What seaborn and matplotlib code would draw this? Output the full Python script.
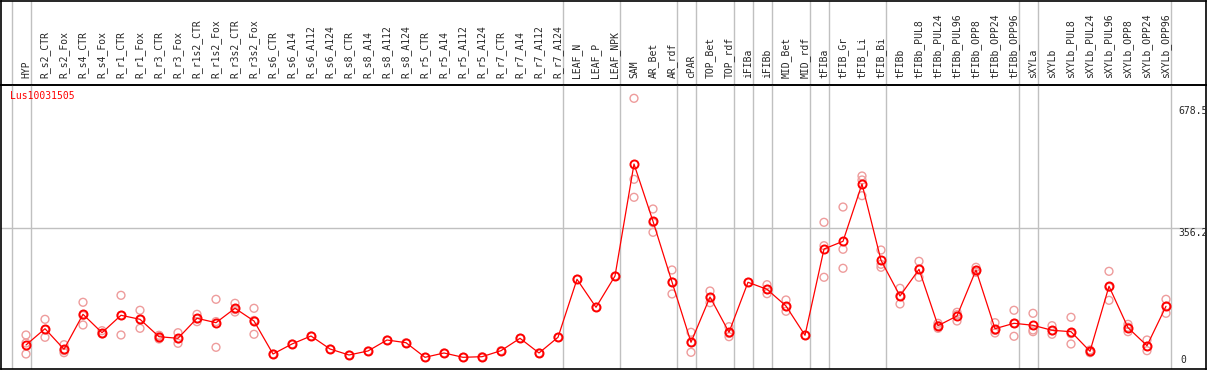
import numpy as np
import pandas as pd
import seaborn as sns
import matplotlib
matplotlib.use('Agg')
import matplotlib.pyplot as plt
import matplotlib.transforms as mtransforms

# Dados
gene = 'Lus10031505'
amostras = ['HYP', 'R_s2_CTR', 'R_s2_Fox', 'R_s4_CTR', 'R_s4_Fox', 'R_r1_CTR', 'R_r1_Fox',
            'R_r3_CTR', 'R_r3_Fox', 'R_r1s2_CTR', 'R_r1s2_Fox', 'R_r3s2_CTR', 'R_r3s2_Fox',
            'R_s6_CTR', 'R_s6_A14', 'R_s6_A112', 'R_s6_A124', 'R_s8_CTR', 'R_s8_A14',
            'R_s8_A112', 'R_s8_A124', 'R_r5_CTR', 'R_r5_A14', 'R_r5_A112', 'R_r5_A124',
            'R_r7_CTR', 'R_r7_A14', 'R_r7_A112', 'R_r7_A124', 'LEAF_N', 'LEAF_P', 'LEAF_NPK',
            'SAM', 'AR_Bet', 'AR_rdf', 'cPAR', 'TOP_Bet', 'TOP_rdf', 'iFIBa', 'iFIBb',
            'MID_Bet', 'MID_rdf', 'tFIBa', 'tFIB_Gr', 'tFIB_Li', 'tFIB_Bi', 'tFIBb',
            'tFIBb_PUL8', 'tFIBb_PUL24', 'tFIBb_PUL96', 'tFIBb_OPP8', 'tFIBb_OPP24',
            'tFIBb_OPP96', 'sXYLa', 'sXYLb', 'sXYLb_PUL8', 'sXYLb_PUL24', 'sXYLb_PUL96',
            'sXYLb_OPP8', 'sXYLb_OPP24', 'sXYLb_OPP96']

medias = [66.9, 107.3, 56.3, 143.0, 97.4, 140.6, 130.6, 87.5, 83.5, 133.1, 122.2, 157.9, 126.4,
          44.6, 69.4, 89.2, 57.0, 42.1, 52.1, 79.3, 72.6, 36.4, 47.1, 36.4, 37.9, 52.8, 83.5,
          47.1, 86.0, 229.8, 160.4, 238.0, 515.6, 373.6, 223.1, 73.6, 185.9, 98.4, 222.4,
          205.0, 163.6, 91.0, 304.9, 324.0, 466.1, 276.9, 188.4, 254.6, 114.8, 138.8, 252.9,
          107.3, 120.7, 115.8, 103.4, 99.9, 51.3, 212.5, 109.8, 65.2, 162.9]

# replicatas (None = só uma amostra)
replicatas = [[91.7, 71.9, 44.6], [130.6, 86.0, 105.0], [67.7, 47.8, 53.0], [172.8, 116.5, 140.0],
              [102.4, 94.2, 95.5], [190.1, 91.7, 140.0], [153.0, 108.3, 130.5], [91.0, 81.8, 89.5],
              [97.4, 71.1, 82.0], [143.0, 124.7, 131.5], [180.2, 61.2, 125.0], [170.3, 148.7, 154.7],
              [157.9, 93.5, 127.8],
              None, None, None, None, None, None, None, None, None, None, None, None,
              None, None, None, None, None, None, None,
              [678.5, 477.7, 433.1], [404.1, 346.3, 370.4], [252.9, 193.4, 223.0],
              [98.4, 48.8, 73.6], [200.8, 171.8, 185.0], [112.3, 87.5, 95.4], None,
              [216.4, 194.1, 204.5], [178.5, 150.5, 161.8], None,
              [371.1, 313.1, 234.8], [409.0, 304.2, 257.1], [485.9, 476.0, 437.1],
              [302.4, 259.6, 267.0], [207.5, 168.6, 189.0], [274.4, 234.8, 254.6],
              [120.7, 108.3, 115.4], [148.0, 126.4, 142.0], [259.6, 247.2, 252.0],
              [122.2, 96.7, 103.0], [153.0, 88.5, 120.7], [145.5, 99.9, 104.1],
              [114.8, 93.5, 102.0], [135.6, 69.4, 95.0], [54.5, 47.8, 51.5],
              [249.6, 177.7, 210.0], [118.2, 99.9, 111.0], [79.3, 52.8, 63.5],
              [180.2, 145.5, 163.0]]

tamanhos_grupos = [1, 28, 3, 3, 1, 2, 1, 1, 2, 1, 3, 7, 1, 7]
ticks_y = [678.5, 356.2, 0]

# Montar dataframes
df_media = pd.DataFrame({'pos': np.arange(len(amostras)), 'valor': medias})
linhas = []
for i, reps in enumerate(replicatas):
    if reps is None:
        reps = [medias[i]]
    for r in reps:
        linhas.append({'pos': i, 'valor': r})
df_rep = pd.DataFrame(linhas)

sns.set_style('white')
plt.rcParams['font.family'] = ['DejaVu Sans Mono', 'DejaVu Sans']

W, H = 1209, 370
fig = plt.figure(figsize=(W / 100, H / 100), dpi=100)
x0, x1 = 1, 1206
yh = 85
axh = fig.add_axes([x0 / W, (H - yh) / H, (x1 - x0) / W, (yh - 0.5) / H])
ax = fig.add_axes([x0 / W, (H - 369) / H, (x1 - x0) / W, (369 - yh) / H])
axh.set_facecolor('none')
ax.set_facecolor('none')

xlim = (-(26 - x0) / 19, (x1 - 26) / 19)
ax.set_xlim(xlim)
axh.set_xlim(xlim)
ax.set_ylim(7.4, 711.5)
axh.set_ylim(0, 1)

# separadores dos grupos
limites = [-1] + list(np.cumsum(tamanhos_grupos) - 1)
for b in limites:
    ax.axvline(b + 0.25, color='#c0c0c0', lw=1, zorder=0)
    axh.axvline(b + 0.25, color='#c0c0c0', lw=1, zorder=0)
ax.axhline(356.2, color='#c0c0c0', lw=1, zorder=0)

# replicatas e médias
sns.scatterplot(data=df_rep, x='pos', y='valor', ax=ax, marker='o', s=32,
                facecolor='none', edgecolor='#ee9c9c', linewidth=1.0, zorder=2)
sns.lineplot(data=df_media, x='pos', y='valor', ax=ax, color='#ff0000', lw=0.9,
             marker='o', ms=5.8, mfc='none', mec='#ff0000', mew=1.4, zorder=3)

# rótulos das amostras no cabeçalho
ax.set_xticks(range(len(amostras)))
ax.set_xticklabels(amostras, rotation=90, fontsize=7)
ax.tick_params(axis='x', top=False, bottom=False, labeltop=True, labelbottom=False, pad=1.5)
for lbl in ax.get_xticklabels():
    lbl.set_verticalalignment('bottom')
ax.set_yticks([])
axh.set_xticks([])
axh.set_yticks([])
ax.set_xlabel('')
ax.set_ylabel('')

for a in (ax, axh):
    for s in a.spines.values():
        s.set_color('black')
        s.set_linewidth(1.2)

# valores no eixo direito
trans = mtransforms.blended_transform_factory(ax.transAxes, ax.transData)
xt = (1178 - x0) / (x1 - x0)
ax.annotate(f'{ticks_y[0]}', (xt, ticks_y[0]), xycoords=trans, xytext=(0, -5.5),
            textcoords='offset points', va='top', ha='left', fontsize=7)
ax.annotate(f'{ticks_y[1]}', (xt, ticks_y[1]), xycoords=trans, xytext=(0, 0),
            textcoords='offset points', va='top', ha='left', fontsize=7)
ax.text(xt + 0.002, 0.015, f'{ticks_y[2]}', transform=ax.transAxes, va='bottom', ha='left', fontsize=7)

# nome do gene
ax.text((10 - x0) / (x1 - x0), 1 - 6 / (369 - yh), gene, transform=ax.transAxes,
        color='#ff0000', fontsize=7, va='top', ha='left')

fig.savefig('out.png', dpi=100)
